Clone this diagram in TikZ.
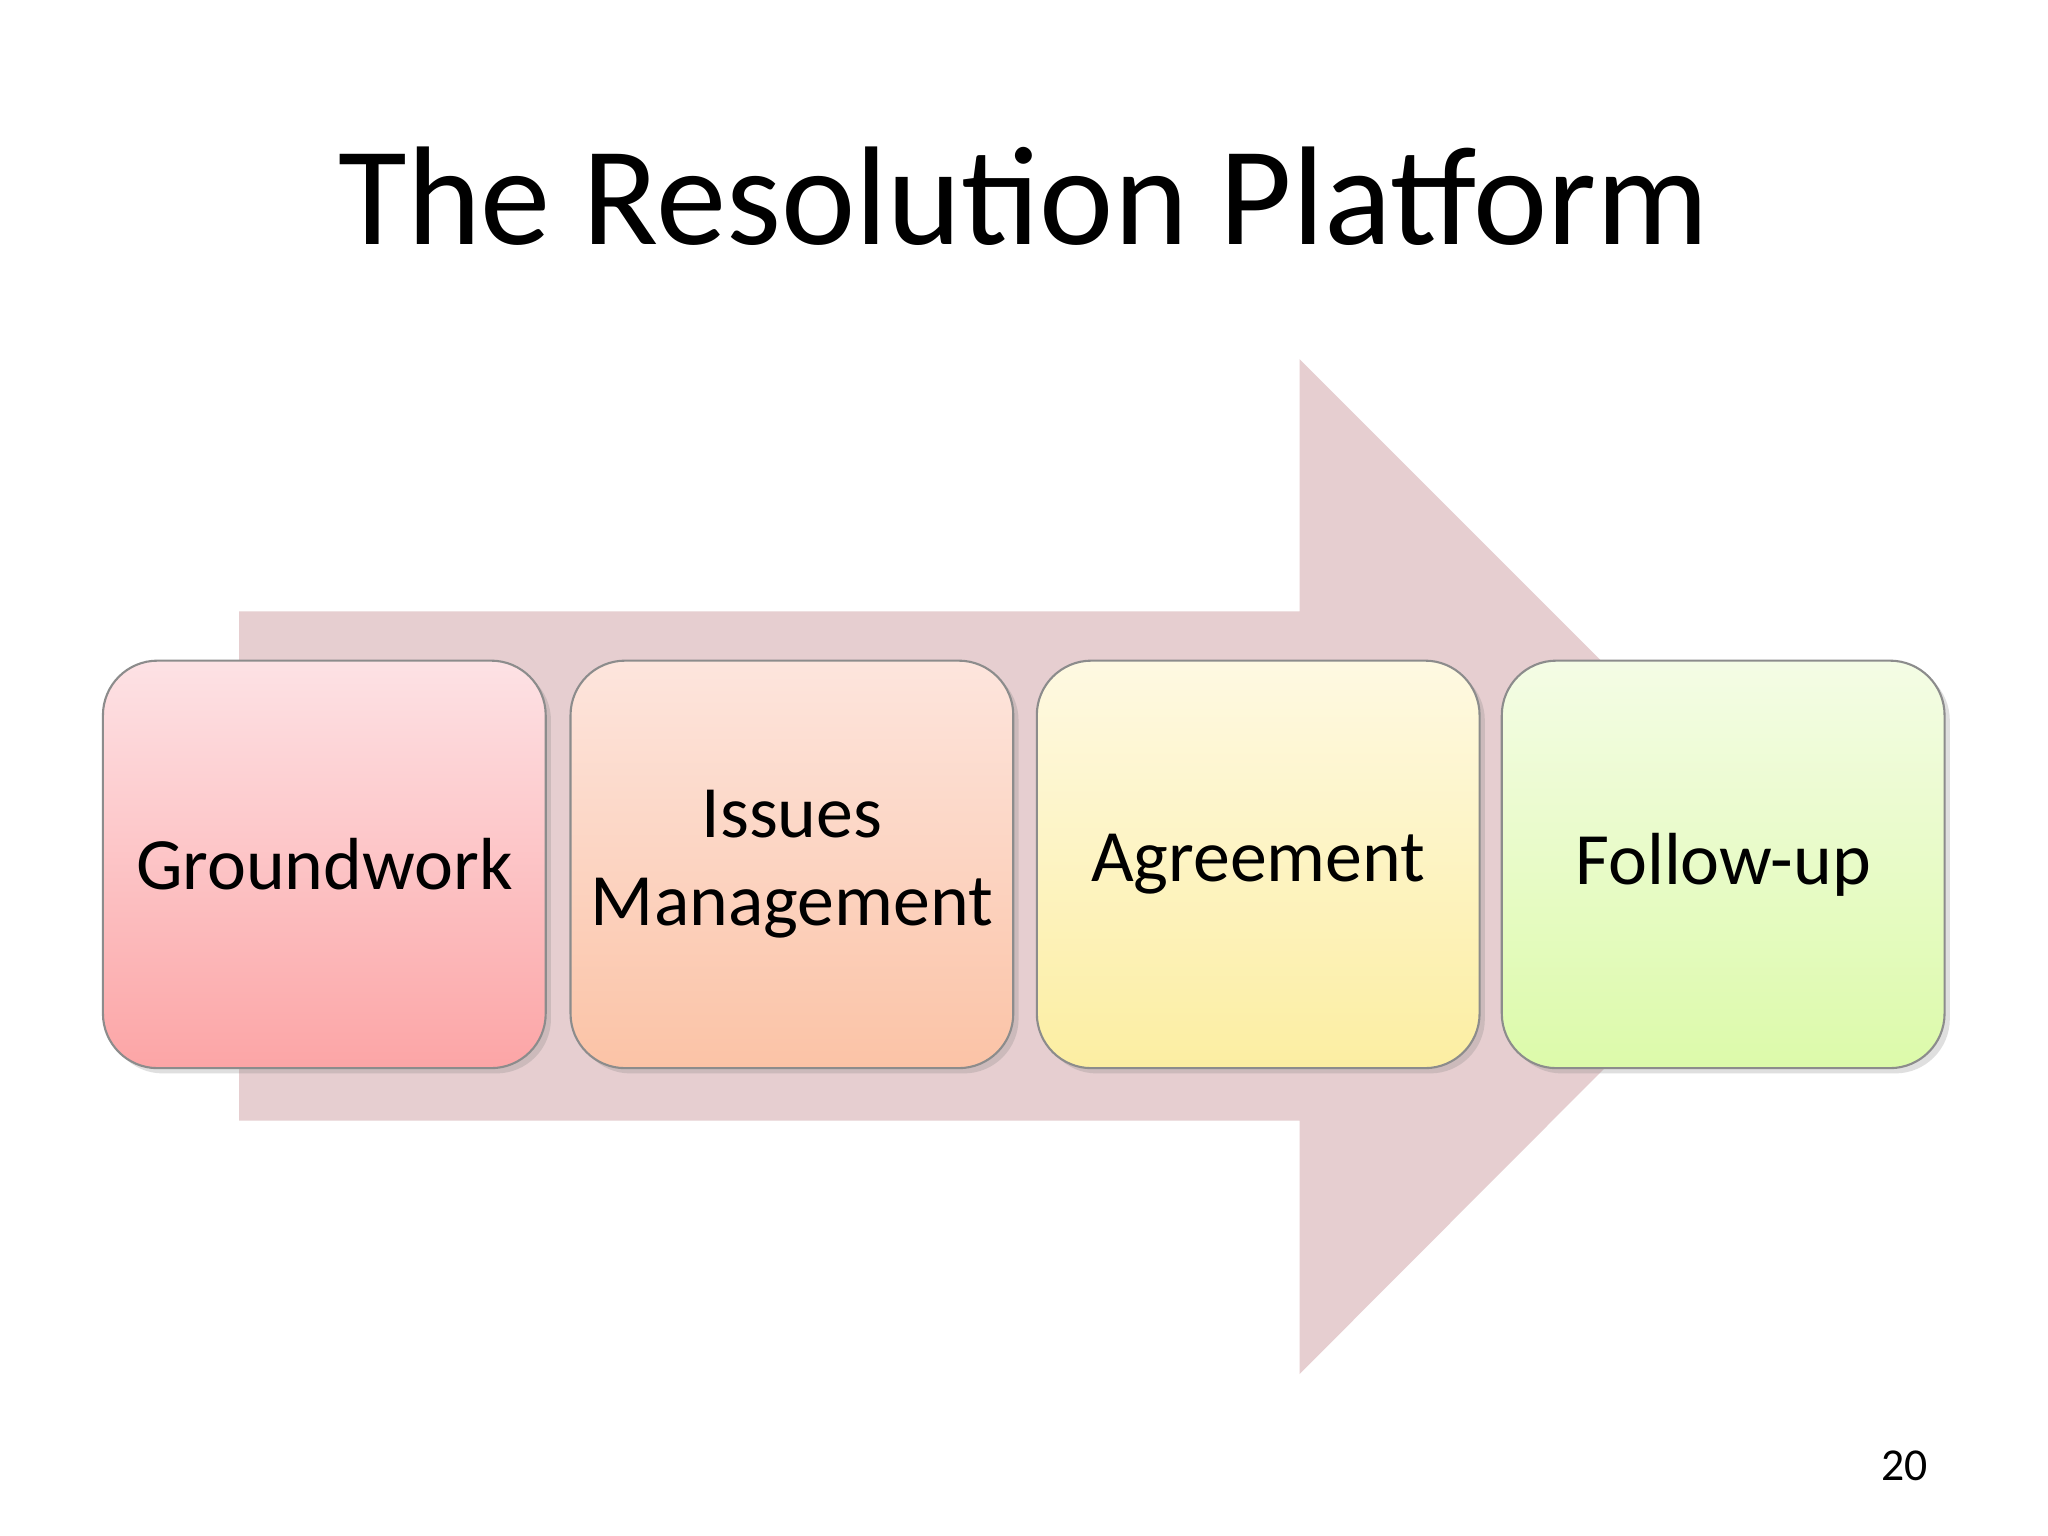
\documentclass[tikz,border=0pt]{standalone}
\usepackage{fontspec}
\setmainfont{Carlito}
\usetikzlibrary{shadows}
\definecolor{arr}{RGB}{230,206,208}
\begin{document}
\begin{tikzpicture}[x=0.013061cm,y=-0.013061cm,
  box/.style={rounded corners=42pt*0.37, draw=black!45, line width=0.6pt,
    minimum width=339*0.013061cm, minimum height=312*0.013061cm, align=center,
    font=\fontsize{21pt}{25pt}\selectfont, anchor=north west,
    drop shadow={shadow xshift=1.5pt,shadow yshift=-1.5pt,opacity=0.25}}]
\useasboundingbox[fill=white] (0,0) rectangle (1568,1176);
\node (title) at (784,150) {\fontsize{40pt}{46pt}\selectfont The Resolution Platform};
\fill[arr] (183,468) -- (995,468) -- (995,275) -- (1383,663) -- (995,1052) -- (995,858) -- (183,858) -- cycle;
\node[box, top color={rgb,255:red,253;green,226;blue,229}, bottom color={rgb,255:red,252;green,165;blue,166}] (b1) at (78,505) {Groundwork};
\node[box, top color={rgb,255:red,253;green,229;blue,221}, bottom color={rgb,255:red,251;green,195;blue,166}] (b2) at (436,505) {Issues\\Management};
\node[box, top color={rgb,255:red,254;green,249;blue,226}, bottom color={rgb,255:red,252;green,238;blue,162}] (b3) at (793,505) {Agreement};
\node[box, top color={rgb,255:red,244;green,252;blue,229}, bottom color={rgb,255:red,220;green,250;blue,170}] (b4) at (1149,505) {Follow-up};
\node (num) at (1458,1122) {\fontsize{13pt}{15pt}\selectfont 20};
\end{tikzpicture}
\end{document}
